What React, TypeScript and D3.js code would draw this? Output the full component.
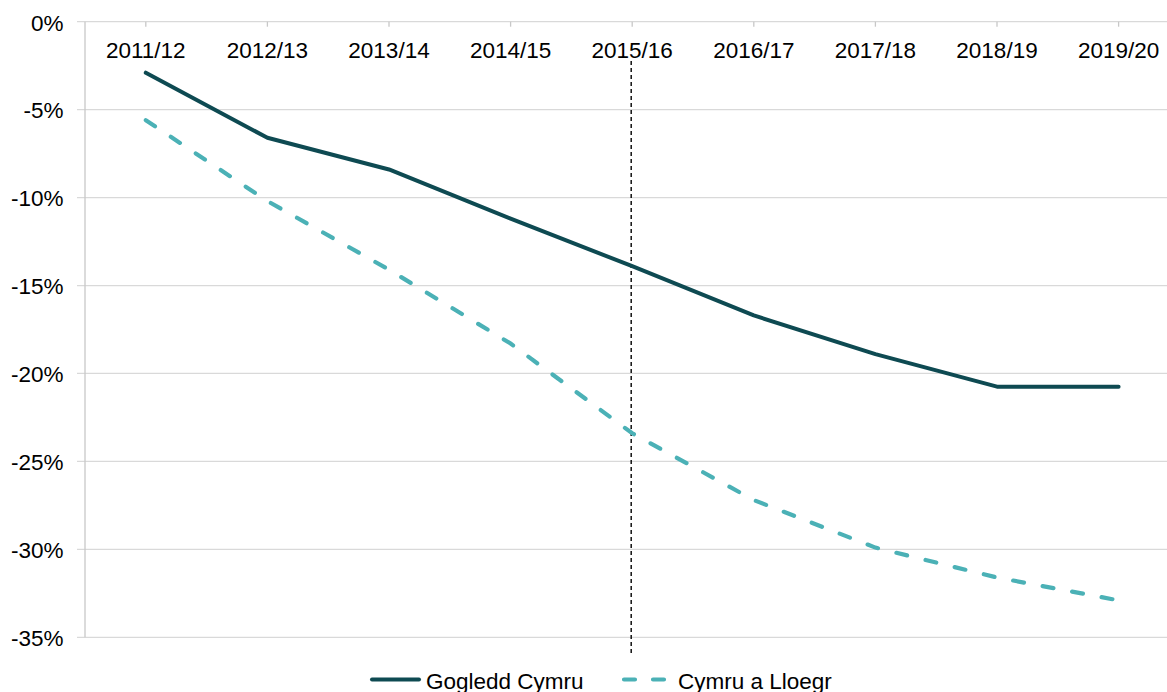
import React, { useEffect, useRef } from "react";
import * as d3 from "d3";

const years = [
  "2011/12",
  "2012/13",
  "2013/14",
  "2014/15",
  "2015/16",
  "2016/17",
  "2017/18",
  "2018/19",
  "2019/20",
];
const goglCymruValues = [-2.9, -6.6, -8.4, -11.2, -13.9, -16.7, -18.9, -20.75, -20.75];
const cymruLloegrValues = [-5.6, -10.2, -14.1, -18.3, -23.4, -27.2, -29.9, -31.6, -32.9];
const yTicks = [0, -5, -10, -15, -20, -25, -30, -35];
const markerYear = "2015/16";

const seriesNames = ["Gogledd Cymru", "Cymru a Lloegr"];

function App() {
  const ref = useRef<SVGSVGElement | null>(null);
  const width = 1167;
  const height = 692;

  useEffect(() => {
    document.body.style.margin = "0";
    drawChart();
  });

  function drawChart() {
    const svg = d3.select(ref.current);
    svg.selectAll("*").remove();

    const font = "'Liberation Sans', Arial, sans-serif";
    const fontSize = "22.5px";
    const left = 85;
    const step = 121.6;

    const x = d3
      .scaleBand()
      .domain(years)
      .range([left, left + step * years.length])
      .padding(0);
    const cx = (d: string) => (x(d) as number) + x.bandwidth() / 2;

    const y = d3.scaleLinear().domain([-35, 0]).range([637.3, 21.7]);

    // gridlines
    svg
      .append("g")
      .selectAll("line")
      .data(yTicks)
      .enter()
      .append("line")
      .attr("x1", left - 8)
      .attr("x2", width)
      .attr("y1", (d) => y(d))
      .attr("y2", (d) => y(d))
      .style("stroke", "#d9d9d9")
      .style("stroke-width", 1.3);

    // y axis line
    svg
      .append("line")
      .attr("x1", left)
      .attr("x2", left)
      .attr("y1", y(0))
      .attr("y2", y(-35))
      .style("stroke", "#c8c8c8")
      .style("stroke-width", 1.3);

    // x ticks (hang down from the 0% line)
    svg
      .append("g")
      .selectAll("line")
      .data(years)
      .enter()
      .append("line")
      .attr("x1", (d) => cx(d))
      .attr("x2", (d) => cx(d))
      .attr("y1", y(0))
      .attr("y2", y(0) + 5)
      .style("stroke", "#c8c8c8")
      .style("stroke-width", 1.3);

    // y labels
    svg
      .append("g")
      .selectAll("text")
      .data(yTicks)
      .enter()
      .append("text")
      .attr("x", 63.5)
      .attr("y", (d) => y(d) + 8.8)
      .attr("text-anchor", "end")
      .style("font-family", font)
      .style("font-size", fontSize)
      .style("fill", "#000")
      .text((d) => d + "%");

    // x labels
    svg
      .append("g")
      .selectAll("text")
      .data(years)
      .enter()
      .append("text")
      .attr("x", (d) => cx(d))
      .attr("y", 58.3)
      .attr("text-anchor", "middle")
      .style("font-family", font)
      .style("font-size", fontSize)
      .style("fill", "#000")
      .text((d) => d);

    // vertical marker line
    svg
      .append("line")
      .attr("x1", cx(markerYear) - 1)
      .attr("x2", cx(markerYear) - 1)
      .attr("y1", 61)
      .attr("y2", 653)
      .style("stroke", "#111")
      .style("stroke-width", 1.5)
      .style("stroke-dasharray", "4,3");

    const line = d3
      .line<number>()
      .x((_, i) => cx(years[i]))
      .y((d) => y(d));

    svg
      .append("path")
      .datum(cymruLloegrValues)
      .attr("d", line)
      .style("fill", "none")
      .style("stroke", "#4bb1b6")
      .style("stroke-width", 4.2)
      .style("stroke-linecap", "round")
      .style("stroke-dasharray", "11,19");

    svg
      .append("path")
      .datum(goglCymruValues)
      .attr("d", line)
      .style("fill", "none")
      .style("stroke", "#0e4a52")
      .style("stroke-width", 4)
      .style("stroke-linecap", "round")
      .style("stroke-linejoin", "round");

    // legend
    const legendY = 679.5;
    const legend = svg.append("g");
    legend
      .append("line")
      .attr("x1", 372)
      .attr("x2", 419)
      .attr("y1", legendY)
      .attr("y2", legendY)
      .style("stroke", "#0e4a52")
      .style("stroke-width", 4)
      .style("stroke-linecap", "round");
    legend
      .append("text")
      .attr("x", 426)
      .attr("y", 688.5)
      .style("font-family", font)
      .style("font-size", fontSize)
      .text(seriesNames[0]);
    legend
      .append("line")
      .attr("x1", 624)
      .attr("x2", 666)
      .attr("y1", legendY)
      .attr("y2", legendY)
      .style("stroke", "#4bb1b6")
      .style("stroke-width", 4.2)
      .style("stroke-linecap", "round")
      .style("stroke-dasharray", "11,18");
    legend
      .append("text")
      .attr("x", 678)
      .attr("y", 688.5)
      .style("font-family", font)
      .style("font-size", fontSize)
      .text(seriesNames[1]);
  }

  return (
    <svg
      ref={ref}
      width={width}
      height={height}
      style={{ display: "block", background: "#fff" }}
    />
  );
}

export default App;
